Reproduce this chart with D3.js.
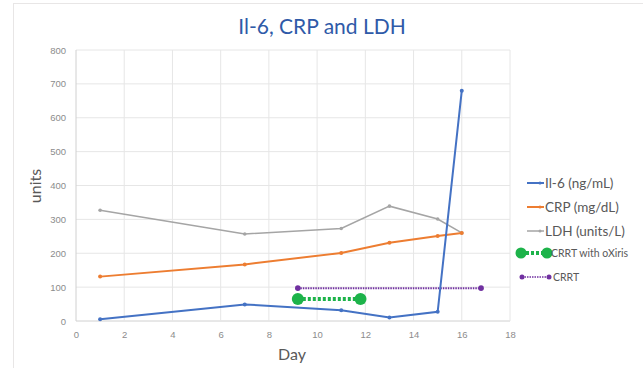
<!DOCTYPE html>
<html><head><meta charset="utf-8">
<script src="https://cdn.jsdelivr.net/npm/d3@7"></script>
<style>body{margin:0;background:#fff}svg{display:block;font-family:Lato,"Open Sans",sans-serif}</style>
</head><body><svg id="c" width="643" height="368"></svg>
<script>
const days = [1, 7, 11, 13, 15, 16];
const il6 = [5, 49, 32, 10, 27, 680];
const crp = [131, 167, 201, 231, 251, 260];
const ldh = [327, 257, 273, 339, 301, 260];
const oxirisDays = [9.2, 11.8];
const oxirisVals = [65, 65];
const crrtDays = [9.2, 16.8];
const crrtVals = [97, 97];
const xTicks = [0, 2, 4, 6, 8, 10, 12, 14, 16, 18];
const yTicks = [0, 100, 200, 300, 400, 500, 600, 700, 800];

const svg = d3.select("#c");
svg.append("rect").attr("x",13.5).attr("y",3.5).attr("width",640).attr("height",370).attr("fill","#fff").attr("stroke","#e8e6e6");
const x = d3.scaleLinear().domain([0,18]).range([76,510]);
const y = d3.scaleLinear().domain([0,800]).range([321,50]);

// gridlines
svg.append("g").selectAll("line").data(yTicks).join("line")
  .attr("x1",x(0)).attr("x2",x(18)).attr("y1",d=>y(d)).attr("y2",d=>y(d))
  .attr("stroke",d=>d===0?"#d0d0d0":"#e6e6e6").attr("stroke-width",1);
svg.append("g").selectAll("line").data(xTicks).join("line")
  .attr("x1",d=>x(d)).attr("x2",d=>x(d)).attr("y1",y(0)).attr("y2",y(800))
  .attr("stroke",d=>d===0?"#d0d0d0":"#e6e6e6").attr("stroke-width",1);

// axes labels
const xa = svg.append("g").attr("transform",`translate(0,${y(0)})`).call(d3.axisBottom(x).tickValues(xTicks).tickSize(0).tickPadding(10));
xa.select(".domain").remove();
xa.selectAll("text").attr("fill","#8c8c8c").style("font-size","9.5px");
const ya = svg.append("g").attr("transform",`translate(${x(0)},0)`).call(d3.axisLeft(y).tickValues(yTicks).tickSize(0).tickPadding(10));
ya.select(".domain").remove();
ya.selectAll("text").attr("fill","#8c8c8c").style("font-size","9.5px");

svg.append("text").attr("x",322).attr("y",34).attr("text-anchor","middle").attr("fill","#2f5aa8").style("font-size","21px").text("Il-6, CRP and LDH");
svg.append("text").attr("x",292).attr("y",360).attr("text-anchor","middle").attr("fill","#595959").style("font-size","16px").text("Day");
svg.append("text").attr("transform","translate(41,186) rotate(-90)").attr("text-anchor","middle").attr("fill","#595959").style("font-size","16px").text("units");

const line = d3.line().x(d=>x(d[0])).y(d=>y(d[1]));
function series(xs, vs, color, w, dash, r){
  const pts = xs.map((d,i)=>[d,vs[i]]);
  svg.append("path").datum(pts).attr("d",line).attr("fill","none").attr("stroke",color).attr("stroke-width",w).attr("stroke-dasharray",dash||null);
  svg.append("g").selectAll("circle").data(pts).join("circle").attr("cx",d=>x(d[0])).attr("cy",d=>y(d[1])).attr("r",r).attr("fill",color);
}
series(days, ldh, "#a5a5a5", 1.5, null, 1.8);
series(days, crp, "#ed7d31", 2, null, 2);
series(crrtDays, crrtVals, "#7030a0", 2, "1.5,1", 2.8);
series(oxirisDays, oxirisVals, "#1db34a", 4, "3,2", 6);
series(days, il6, "#4472c4", 2, null, 2);

// legend
const legend = [
  {label:"Il-6 (ng/mL)", color:"#4472c4", y:183, w:2, r:1.5, size:13.5, dash:null},
  {label:"CRP (mg/dL)", color:"#ed7d31", y:207, w:2, r:1.5, size:13.5, dash:null},
  {label:"LDH (units/L)", color:"#a5a5a5", y:231, w:1.5, r:1.5, size:13.5, dash:null},
  {label:"CRRT with oXiris", color:"#1db34a", y:253, w:4, r:5.5, size:10.5, dash:"3,2"},
  {label:"CRRT", color:"#7030a0", y:277, w:1.5, r:2.5, size:10.5, dash:"1.5,1"}
];
const lg = svg.append("g");
legend.forEach((d,i)=>{
  const x1 = i===3 ? 521 : (i===4 ? 522 : 527), x2 = i===3 ? 547 : (i===4 ? 549 : 544);
  lg.append("line").attr("x1",x1).attr("x2",x2).attr("y1",d.y).attr("y2",d.y).attr("stroke",d.color).attr("stroke-width",d.w).attr("stroke-dasharray",d.dash);
  if(i>=3){ lg.append("circle").attr("cx",x1).attr("cy",d.y).attr("r",d.r).attr("fill",d.color); }
  lg.append("circle").attr("cx",i>=3?x2:x2-4).attr("cy",d.y).attr("r",d.r).attr("fill",d.color);
  lg.append("text").attr("x",i>=3?x2+4:x2+1).attr("y",d.y).attr("dy","0.35em").attr("fill","#595959").style("font-size",d.size+"px").text(d.label);
});
</script></body></html>
